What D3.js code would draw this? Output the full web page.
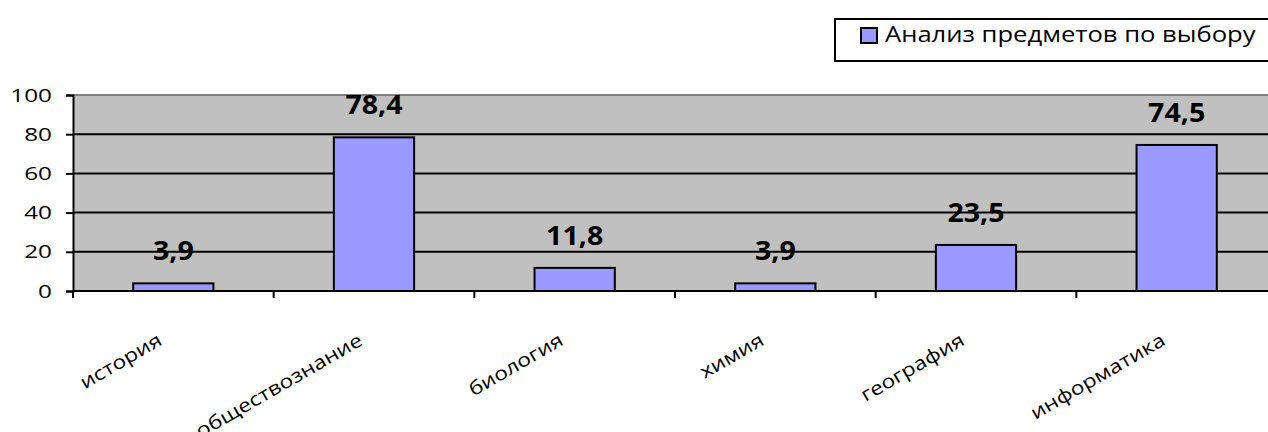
<!DOCTYPE html>
<html>
<head>
<meta charset="utf-8">
<script src="https://cdn.jsdelivr.net/npm/d3@7"></script>
<style>
  body { margin: 0; background: #fff; overflow: hidden; }
  text { font-family: "Open Sans", "Noto Sans", sans-serif; fill: #000; }
</style>
</head>
<body>
<svg id="chart" width="1268" height="432"></svg>
<script>
const categories = ['история', 'обществознание', 'биология', 'химия', 'география', 'информатика'];
const values = [3.9, 78.4, 11.8, 3.9, 23.5, 74.5];
const yTicks = [0, 20, 40, 60, 80, 100];
const seriesName = 'Анализ предметов по выбору';

const svg = d3.select('#chart');
const plotLeft = 73, plotTop = 95, plotRight = 1277, plotBottom = 291;
// the original picture is stretched sideways, so its text is too
const stretch = 1.28;

const x = d3.scaleBand()
  .domain(categories)
  .range([plotLeft, plotRight])
  .paddingInner(0.6)
  .paddingOuter(0.3);

const y = d3.scaleLinear()
  .domain([0, 100])
  .range([plotBottom, plotTop]);

// plot background
svg.append('rect')
  .attr('x', plotLeft).attr('y', plotTop)
  .attr('width', plotRight - plotLeft).attr('height', plotBottom - plotTop)
  .style('fill', '#c0c0c0');

svg.append('line')
  .attr('x1', plotLeft).attr('x2', plotRight)
  .attr('y1', plotTop).attr('y2', plotTop)
  .style('stroke', '#808080').style('stroke-width', 2);

// gridlines
svg.append('g')
  .selectAll('line')
  .data(yTicks.filter(d => d > 0 && d < 100))
  .enter()
  .append('line')
  .attr('x1', plotLeft).attr('x2', plotRight)
  .attr('y1', d => y(d)).attr('y2', d => y(d))
  .style('stroke', '#000').style('stroke-width', 2);

// y axis
const yAxis = svg.append('g')
  .attr('transform', `translate(${plotLeft}, 0)`)
  .call(d3.axisLeft(y).tickValues(yTicks).tickSize(7).tickPadding(14));
yAxis.selectAll('path, line').style('stroke', '#000').style('stroke-width', 2);
yAxis.selectAll('text')
  .style('font-size', '19px')
  .attr('transform', `translate(-21, 0) scale(${stretch}, 1)`)
  .attr('x', 0);

// bars
svg.append('g')
  .selectAll('rect')
  .data(values)
  .enter()
  .append('rect')
  .attr('x', (d, i) => x(categories[i]))
  .attr('y', d => y(d))
  .attr('width', x.bandwidth())
  .attr('height', d => plotBottom - y(d))
  .style('fill', '#9999ff')
  .style('stroke', '#000')
  .style('stroke-width', 2);

// data labels
svg.append('g')
  .selectAll('text')
  .data(values)
  .enter()
  .append('text')
  .attr('transform', (d, i) =>
    `translate(${x(categories[i]) + x.bandwidth() / 2}, ${y(d) - 23}) scale(1.1, 1)`)
  .attr('text-anchor', 'middle')
  .style('font-size', '26px')
  .style('font-weight', 'bold')
  .text(d => String(d).replace('.', ','));

// x axis with category separators
svg.append('line')
  .attr('x1', plotLeft).attr('x2', plotRight)
  .attr('y1', plotBottom).attr('y2', plotBottom)
  .style('stroke', '#000').style('stroke-width', 2);

svg.append('g')
  .selectAll('line')
  .data(categories)
  .enter()
  .append('line')
  .attr('x1', d => x(d) - x.bandwidth() * 0.75)
  .attr('x2', d => x(d) - x.bandwidth() * 0.75)
  .attr('y1', plotBottom).attr('y2', plotBottom + 7)
  .style('stroke', '#000').style('stroke-width', 2);

svg.append('g')
  .selectAll('text')
  .data(categories)
  .enter()
  .append('text')
  .attr('transform', d =>
    `translate(${x(d) + x.bandwidth() / 2 - 10}, 344) rotate(-30) scale(1.2, 1)`)
  .attr('text-anchor', 'end')
  .style('font-size', '19px')
  .text(d => d);

// legend
const legend = svg.append('g');
legend.append('rect')
  .attr('x', 835).attr('y', 19)
  .attr('width', 445).attr('height', 42)
  .style('fill', '#fff').style('stroke', '#000').style('stroke-width', 2);
legend.append('rect')
  .attr('x', 861).attr('y', 28)
  .attr('width', 16).attr('height', 15)
  .style('fill', '#9999ff').style('stroke', '#000').style('stroke-width', 2);
legend.append('text')
  .attr('transform', `translate(885, 42) scale(1.22, 1)`)
  .style('font-size', '21px')
  .text(seriesName);
</script>
</body>
</html>
